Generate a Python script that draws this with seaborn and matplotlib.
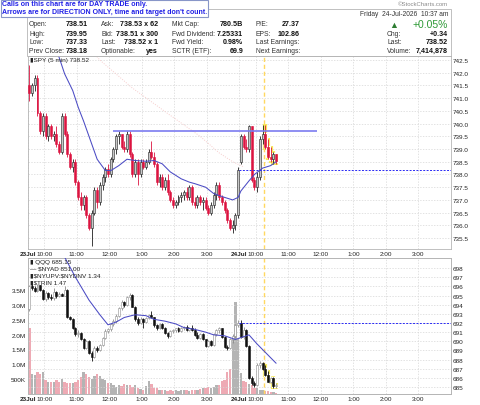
import numpy as np
import pandas as pd
import matplotlib
matplotlib.use("Agg")
import matplotlib.pyplot as plt
from matplotlib.patches import Rectangle
import seaborn as sns

sns.set_style("white")
plt.rcParams["font.family"] = ["Liberation Sans", "DejaVu Sans"]

# 1. Bar data: 5 min bars, 23 Jul full session (78 bars) + 24 Jul up to 10:35 (14 bars)
spy_open = [
    741.5, 741.2, 741.5, 741.8, 740.4, 739.7, 740.3, 739.5, 739.9, 739.5, 739.6, 739.2, 738.9,
    740.3, 739.6, 738.8, 738.3, 738.5, 737.7, 737.1, 736.8, 737.1, 736.4, 735.9, 736.5, 737.4,
    736.9, 737.6, 737.9, 738.2, 738.0, 738.6, 739.0, 739.5, 739.6, 739.1, 739.0, 739.6, 738.8,
    738.0, 738.5, 738.0, 738.5, 738.3, 738.5, 738.9, 738.7, 738.4, 737.7, 737.9, 737.5, 737.8,
    737.3, 737.0, 736.8, 736.9, 737.1, 737.2, 737.3, 737.1, 737.5, 736.9, 736.8, 737.1, 736.9,
    737.0, 736.7, 736.5, 736.8, 737.2, 737.6, 737.1, 736.9, 736.6, 736.2, 735.9, 736.0, 736.4,
    738.51, 739.5, 739.1, 739.0, 739.9, 737.8, 737.5, 737.9, 739.4, 739.6, 739.1, 738.7, 738.6, 738.8]
spy_high = [
    742.3, 741.6, 741.9, 741.9, 740.5, 740.4, 740.4, 740.0, 740.0, 739.7, 739.9, 739.3, 740.4,
    740.4, 739.7, 738.9, 738.6, 738.6, 737.8, 737.3, 737.2, 737.2, 736.5, 736.6, 737.5, 737.5,
    737.7, 738.0, 738.3, 738.4, 738.7, 739.1, 739.6, 739.7, 739.6, 739.3, 739.7, 739.7, 738.9,
    738.6, 738.6, 738.6, 738.6, 738.6, 739.0, 739.3, 738.9, 738.5, 738.0, 738.0, 737.9, 738.0,
    737.4, 737.1, 737.0, 737.2, 737.3, 737.4, 737.5, 737.6, 737.6, 737.1, 737.2, 737.2, 737.1,
    737.1, 736.8, 736.9, 737.3, 737.7, 737.7, 737.2, 737.0, 736.7, 736.3, 736.2, 736.5, 738.3,
    739.6, 739.6, 739.4, 739.95, 739.9, 737.9, 738.1, 739.5, 739.95, 739.95, 739.4, 739.1, 738.9, 738.8]
spy_low = [
    740.9, 741.1, 741.3, 740.3, 739.6, 739.5, 739.4, 739.3, 739.4, 739.3, 739.1, 738.8, 738.8,
    739.5, 738.7, 738.2, 738.1, 737.6, 737.0, 736.6, 736.6, 736.3, 735.8, 735.2, 736.4, 736.7,
    736.8, 737.4, 737.7, 737.9, 737.9, 738.5, 738.8, 739.2, 739.0, 738.9, 738.9, 738.7, 737.9,
    737.9, 737.6, 737.9, 738.2, 738.2, 738.4, 738.6, 738.3, 737.6, 737.5, 737.4, 737.4, 737.2,
    736.9, 736.7, 736.7, 736.8, 736.9, 737.0, 737.0, 737.0, 736.8, 736.7, 736.7, 736.8, 736.6,
    736.6, 736.4, 736.4, 736.7, 737.0, 737.0, 736.8, 736.5, 736.1, 735.8, 735.7, 735.8, 736.3,
    738.4, 739.0, 738.9, 738.9, 737.7, 737.4, 737.33, 737.8, 739.2, 739.0, 738.6, 738.5, 738.4, 738.4]
spy_close = [
    741.2, 741.5, 741.8, 740.4, 739.7, 740.3, 739.5, 739.9, 739.5, 739.6, 739.2, 738.9, 740.3,
    739.6, 738.8, 738.3, 738.5, 737.7, 737.1, 736.8, 737.1, 736.4, 735.9, 736.5, 737.4, 736.9,
    737.6, 737.9, 738.2, 738.0, 738.6, 739.0, 739.5, 739.6, 739.1, 739.0, 739.6, 738.8, 738.0,
    738.5, 738.0, 738.5, 738.3, 738.5, 738.9, 738.7, 738.4, 737.7, 737.9, 737.5, 737.8, 737.3,
    737.0, 736.8, 736.9, 737.1, 737.2, 737.3, 737.1, 737.5, 736.9, 736.8, 737.1, 736.9, 737.0,
    736.7, 736.5, 736.8, 737.2, 737.6, 737.1, 736.9, 736.6, 736.2, 735.9, 736.0, 736.4, 738.18,
    739.5, 739.1, 739.0, 739.9, 737.8, 737.5, 737.9, 739.4, 739.6, 739.1, 738.7, 738.6, 738.8, 738.52]

qqq_open = [
    693.5, 696.0, 695.8, 695.5, 696.1, 695.6, 694.6, 695.3, 694.8, 694.7, 695.4, 694.9, 695.2,
    695.0, 695.6, 692.6, 692.4, 691.4, 690.8, 690.9, 690.3, 689.3, 690.0, 688.7, 688.3, 689.3,
    689.0, 689.6, 690.4, 691.1, 691.3, 691.9, 692.2, 692.8, 693.6, 694.3, 694.0, 694.8, 695.1,
    693.8, 692.4, 692.0, 692.4, 692.1, 692.5, 692.9, 692.6, 691.8, 691.4, 691.9, 691.5, 690.9,
    690.6, 691.1, 691.2, 691.4, 691.1, 691.5, 691.6, 691.2, 691.5, 691.2, 690.7, 690.4, 690.8,
    690.2, 689.5, 690.0, 689.6, 690.8, 691.2, 691.4, 690.5, 689.4, 689.3, 690.3, 690.6, 691.8,
    692.0, 690.5, 691.2, 689.5, 686.0, 685.4, 685.2, 687.4, 687.6, 687.0, 686.3, 685.6, 686.0, 685.1]
qqq_high = [
    696.2, 696.3, 696.0, 696.3, 696.2, 695.7, 695.5, 695.4, 695.2, 695.8, 695.5, 695.4, 695.3,
    696.0, 695.7, 692.8, 692.5, 691.6, 691.2, 691.0, 690.4, 690.1, 690.1, 688.9, 689.5, 689.5,
    689.7, 690.5, 691.3, 691.5, 692.0, 692.4, 693.0, 693.8, 694.5, 694.4, 695.0, 695.3, 695.2,
    693.9, 692.6, 692.6, 692.5, 692.6, 693.0, 693.3, 692.7, 691.9, 692.0, 692.0, 691.6, 691.0,
    691.2, 691.3, 691.5, 691.6, 691.6, 691.7, 691.8, 691.6, 691.8, 691.4, 691.0, 690.9, 690.9,
    690.3, 690.1, 690.1, 690.9, 691.3, 691.6, 691.5, 690.6, 689.6, 690.4, 690.8, 691.9, 692.3,
    692.3, 691.6, 691.3, 689.6, 686.2, 685.7, 687.6, 687.9, 687.7, 687.4, 686.8, 686.1, 686.1, 685.4]
qqq_low = [
    693.3, 695.6, 695.4, 695.4, 695.5, 694.5, 694.4, 694.6, 694.5, 694.5, 694.7, 694.8, 694.9,
    694.9, 692.5, 692.3, 691.3, 690.6, 690.5, 690.1, 689.2, 689.2, 688.6, 687.9, 688.2, 688.8,
    688.9, 689.5, 690.2, 690.9, 691.1, 691.7, 692.0, 692.6, 693.4, 693.8, 693.9, 694.5, 693.7,
    692.2, 691.8, 691.9, 691.5, 692.0, 692.4, 692.5, 691.6, 691.2, 691.3, 691.3, 690.8, 690.4,
    690.5, 690.9, 691.0, 691.0, 691.0, 691.2, 691.1, 691.1, 691.1, 690.6, 690.3, 690.3, 690.1,
    689.4, 689.4, 689.5, 689.5, 690.6, 690.9, 690.4, 689.3, 689.1, 689.2, 689.8, 690.4, 691.6,
    690.4, 690.2, 689.4, 685.9, 685.2, 685.0, 685.1, 687.1, 686.9, 686.2, 685.5, 685.4, 684.9, 684.9]
qqq_close = [
    696.0, 695.8, 695.5, 696.1, 695.6, 694.6, 695.3, 694.8, 694.7, 695.4, 694.9, 695.2, 695.0,
    695.6, 692.6, 692.4, 691.4, 690.8, 690.9, 690.3, 689.3, 690.0, 688.7, 688.3, 689.3, 689.0,
    689.6, 690.4, 691.1, 691.3, 691.9, 692.2, 692.8, 693.6, 694.3, 694.0, 694.8, 695.1, 693.8,
    692.4, 692.0, 692.4, 692.1, 692.5, 692.9, 692.6, 691.8, 691.4, 691.9, 691.5, 690.9, 690.6,
    691.1, 691.2, 691.4, 691.1, 691.5, 691.6, 691.2, 691.5, 691.2, 690.7, 690.4, 690.8, 690.2,
    689.5, 690.0, 689.6, 690.8, 691.2, 691.4, 690.5, 689.4, 689.3, 690.3, 690.6, 691.8, 692.0,
    690.5, 691.2, 689.5, 686.0, 685.4, 685.2, 687.4, 687.6, 687.0, 686.3, 685.6, 686.0, 685.1, 685.15]

# SPY volume, millions
volume_m = [
    2.22, 0.68, 0.63, 0.74, 0.68, 0.74, 0.46, 0.40, 0.40, 0.42, 0.46, 0.40, 0.51,
    0.40, 0.38, 0.38, 0.38, 0.42, 0.48, 0.56, 0.74, 0.68, 0.56, 0.51, 0.60, 0.68,
    0.62, 0.51, 0.46, 0.38, 0.38, 0.30, 0.25, 0.30, 0.28, 0.32, 0.30, 0.30, 0.25,
    0.30, 0.20, 0.18, 0.15, 0.28, 0.45, 0.35, 0.20, 0.20, 0.15, 0.12, 0.12, 0.10,
    0.12, 0.10, 0.12, 0.10, 0.12, 0.15, 0.12, 0.10, 0.12, 0.12, 0.15, 0.18, 0.20,
    0.20, 0.22, 0.20, 0.25, 0.30, 0.30, 0.45, 0.48, 0.74, 0.84, 1.85, 3.10, 1.85,
    0.70, 0.45, 0.40, 0.35, 0.30, 0.20, 0.20, 0.15, 0.12, 0.10, 0.10, 0.08, 0.06, 0.05]

# moving averages (bar slot, value)
spy_ma_slot = [8, 11, 13, 16, 18, 20, 23, 25, 28, 30, 33, 36, 39, 43, 46, 49,
               52, 56, 59, 61, 65, 68, 72, 75, 77, 78, 81, 83, 86, 89, 91]
spy_ma = [743.3, 742.6, 741.96, 741.3, 740.65, 740.1, 739.2, 738.6, 738.16, 738.15,
          738.35, 738.6, 738.55, 738.52, 738.55, 738.42, 738.1, 737.83, 737.7, 737.64,
          737.5, 737.25, 737.1, 737.0, 737.1, 737.35, 737.75, 738.0, 738.25, 738.35, 738.5]
spy_long_slot = [22, 26, 38, 51, 63, 70, 75, 79]
spy_long_ma = [743.0, 742.5, 741.4, 740.4, 739.5, 738.85, 738.5, 738.3]
qqq_ma_slot = [10, 13, 17, 22, 26, 29, 32, 35, 39, 43, 46, 50, 54, 57, 61, 65,
               68, 72, 76, 78, 81, 84, 87, 91]
qqq_ma = [700.5, 699.2, 697.0, 694.5, 692.9, 691.8, 692.1, 692.6, 692.9, 692.8,
          692.4, 692.2, 691.9, 691.5, 691.3, 691.0, 690.7, 690.6, 690.2, 690.4,
          690.7, 689.7, 688.8, 687.6]

spy_prev_close = 738.18
qqq_prev_close = 692.0
resistance = 739.7
resistance_span = (31, 106)
marker_slot = 86.7          # yellow "now" marker
highlight_from = 87         # bars after the marker get the yellow glow
bars_per_day = 78
day_labels = ["23Jul", "24Jul"]
hour_labels = ["10:00", "11:00", "12:00", "1:00", "2:00", "3:00"]
hour_minutes = [30, 90, 150, 210, 270, 330]
price_ticks = [735.5, 736.0, 736.5, 737.0, 737.5, 738.0, 738.5, 739.0, 739.5,
               740.0, 740.5, 741.0, 741.5, 742.0, 742.5]
qqq_ticks = list(range(685, 699))
vol_ticks = [0.5, 1.0, 1.5, 2.0, 2.5, 3.0, 3.5]
vol_tick_labels = ["500K", "1.0M", "1.5M", "2.0M", "2.5M", "3.0M", "3.5M"]

# header / info box texts
info_labels = [["Open:", "High:", "Low:", "Prev Close:"],
               ["Ask:", "Bid:", "Last:", "Optionable:"],
               ["Mkt Cap:", "Fwd Dividend:", "Fwd Yield:", "SCTR (ETF):"],
               ["P/E:", "EPS:", "Last Earnings:", "Next Earnings:"],
               ["", "Chg:", "Last:", "Volume:"]]
info_values = [["738.51", "739.95", "737.33", "738.18"],
               ["738.53 x 62", "738.51 x 300", "738.52 x 1", "yes"],
               ["780.5B", "7.25331", "0.98%", "69.9"],
               ["27.37", "102.86", "", ""],
               ["+0.05%", "+0.34", "738.52", "7,414,878"]]
overlay_labels = ["\u25AE QQQ 685.15", "\u2014 \\$NYAD 851.00",
                  "\u25AE\\$NYUPV:\\$NYDNV 1.34", "\u25AE\\$TRIN 1.47"]

# 2. Canvas and panel placement (pixel boxes on the 480 x 406 canvas)
W, H = 480, 406
fig = plt.figure(figsize=(W / 100, H / 100), dpi=100)
fig.patch.set_facecolor("white")


def fbox(x0, y0, x1, y1):
    return [x0 / W, 1 - y1 / H, (x1 - x0) / W, (y1 - y0) / H]


ax_p = fig.add_axes(fbox(28, 57, 451, 250))
ax_v = fig.add_axes(fbox(28, 259, 451, 395))
ax_q = ax_v.twinx()

n_slots = 2 * bars_per_day
tick_pos, tick_lab = [], []
for d, day in enumerate(day_labels):
    base = d * bars_per_day - 0.5
    tick_pos.append(base)
    tick_lab.append(day)
    for m, lab in zip(hour_minutes, hour_labels):
        tick_pos.append(base + m / 5)
        tick_lab.append(lab)

grid_kw = dict(color="#d6d6d6", lw=0.5, ls=(0, (2, 2)))
FS = 4.6


def style_time_axis(ax):
    ax.set_xlim(-0.5, n_slots - 0.5)
    ax.set_xticks(tick_pos)
    ax.set_xticklabels(tick_lab)
    for t in ax.get_xticklabels():
        if t.get_text() in day_labels:
            t.set_fontweight("bold")
    for s in ax.spines.values():
        s.set_color("#b5b5b5")
        s.set_linewidth(0.6)


def draw_candles(ax, o, h, l, c, up_face, up_edge, dn_face, dn_edge, min_body):
    o, h, l, c = map(np.asarray, (o, h, l, c))
    x = np.arange(len(o))
    up = c >= o
    lo = np.minimum(o, c)
    body = np.maximum(np.abs(c - o), min_body)
    sel = x >= highlight_from
    ax.vlines(x[sel], l[sel] - min_body, h[sel] + min_body, color="#f7ea5a", lw=3.0, zorder=3)
    ax.bar(x[sel], body[sel] + 2 * min_body, bottom=lo[sel] - min_body, width=1.15,
           color="#f7ea5a", zorder=3)
    edge = np.where(up, up_edge, dn_edge)
    ax.vlines(x, l, h, colors=edge, lw=0.6, zorder=4)
    ax.bar(x, body, bottom=lo, width=0.72, color=np.where(up, up_face, dn_face),
           edgecolor=edge, linewidth=0.4, zorder=5)


# 3. SPY price panel
style_time_axis(ax_p)
ax_p.set_ylim(735.07, 742.66)
ax_p.set_yticks(price_ticks)
ax_p.set_yticklabels([f"{v:.1f}" for v in price_ticks])
ax_p.yaxis.tick_right()
ax_p.tick_params(length=0, labelsize=FS, pad=1.5, colors="#222222")
ax_p.grid(True, **grid_kw)
ax_p.set_axisbelow(True)

sns.lineplot(x=spy_long_slot, y=spy_long_ma, ax=ax_p, color="#f6cccc", lw=0.7,
             ls=(0, (1, 1.5)), zorder=2)
draw_candles(ax_p, spy_open, spy_high, spy_low, spy_close,
             "#c8c8c8", "#1e1e1e", "#dc1440", "#dc1440", 0.03)
sns.lineplot(x=spy_ma_slot, y=spy_ma, ax=ax_p, color="#4b4bc4", lw=0.75, zorder=6)
ax_p.hlines(resistance, *resistance_span, color="#7b7bf0", lw=1.2, zorder=6)
ax_p.hlines(spy_prev_close, bars_per_day - 0.5, n_slots - 0.5, color="#2a2af5",
            lw=0.7, ls=(0, (2, 1.5)), zorder=6)
ax_p.axvline(marker_slot, color="#ffd860", lw=1.0, ls=(0, (3, 2)), zorder=2)
ax_p.set_xlabel("")
ax_p.set_ylabel("")
ax_p.text(0.004, 0.995, "\u25AESPY (5 min) 738.52", transform=ax_p.transAxes,
          fontsize=FS, va="top", ha="left", color="#222222", zorder=8)

# 4. Lower panel: SPY volume (left axis) + QQQ candles (right axis)
style_time_axis(ax_v)
ax_v.set_ylim(0, 4.58)
ax_v.set_yticks(vol_ticks)
ax_v.set_yticklabels(vol_tick_labels)
ax_v.tick_params(length=0, labelsize=FS, pad=1.5, colors="#222222")
ax_v.grid(True, axis="x", **grid_kw)
ax_v.set_axisbelow(True)
vol_col = np.where(np.asarray(spy_close) >= np.asarray(spy_open), "#b4b4b4", "#eeaab4")
ax_v.bar(np.arange(len(volume_m)), volume_m, width=0.85, color=vol_col, linewidth=0, zorder=2)

ax_q.set_xlim(-0.5, n_slots - 0.5)
ax_q.set_ylim(684.24, 699.1)
ax_q.set_yticks(qqq_ticks)
ax_q.set_yticklabels([str(v) for v in qqq_ticks])
ax_q.tick_params(length=0, labelsize=FS, pad=1.5, colors="#222222")
ax_q.grid(True, axis="y", **grid_kw)
for s in ax_q.spines.values():
    s.set_color("#b5b5b5")
    s.set_linewidth(0.6)
draw_candles(ax_q, qqq_open, qqq_high, qqq_low, qqq_close,
             "white", "#8c8c8c", "#111111", "#111111", 0.08)
sns.lineplot(x=qqq_ma_slot, y=qqq_ma, ax=ax_q, color="#4b4bc4", lw=0.75, zorder=6)
ax_q.hlines(qqq_prev_close, bars_per_day - 0.5, n_slots - 0.5, color="#2a2af5",
            lw=0.7, ls=(0, (2, 1.5)), zorder=6)
ax_q.axvline(marker_slot, color="#ffd860", lw=1.0, ls=(0, (3, 2)), zorder=2)
ax_q.set_xlabel("")
ax_q.set_ylabel("")
for i, lab in enumerate(overlay_labels):
    ax_q.text(0.004, 0.995 - i * 0.05, lab, transform=ax_q.transAxes, fontsize=FS,
              va="top", ha="left", color="#222222", zorder=8)

# 5. Info box above the chart
fig.add_artist(Rectangle((27 / W, 1 - 57 / H), (451 - 27) / W, 47 / H,
                         transform=fig.transFigure, fill=False,
                         edgecolor="#b5b5b5", lw=0.6))
rows_y = [25, 34, 42.5, 51.5]
label_x = [29, 101, 172, 256, 387]
value_x = [88, 158, 243, 300, 448]


def ftext(x, y, s, **kw):
    fig.text(x / W, 1 - y / H, s, va="center", **kw)


for col in range(5):
    for r in range(4):
        if info_labels[col][r]:
            ftext(label_x[col], rows_y[r], info_labels[col][r], fontsize=4.9,
                  color="#333333", ha="left")
        val = info_values[col][r]
        if not val:
            continue
        if col == 4 and r == 0:
            ftext(value_x[col], rows_y[r], val, fontsize=7.5, color="#2e9a36", ha="right")
        else:
            ftext(value_x[col], rows_y[r], val, fontsize=5.1, color="#111111",
                  ha="right", fontweight="bold")
ftext(394, 25, "\u25B2", fontsize=6.5, color="#2e7d32", ha="center")
ftext(448, 15, "Friday  24-Jul-2026  10:37 am", fontsize=4.8, color="#333333", ha="right")
ftext(448, 5, "\u00A9StockCharts.com", fontsize=4.3, color="#8a8a8a", ha="right")

# 6. Call-out note in the corner
fig.add_artist(Rectangle((0.5 / W, 1 - 17.5 / H), 207 / W, 17 / H,
                         transform=fig.transFigure, facecolor="white",
                         edgecolor="#8896c8", lw=0.8, zorder=10))
fig.text(2 / W, 1 - 5 / H, "Calls on this chart are for DAY TRADE only.",
         fontsize=5.0, color="#1f1fe6", fontweight="bold", va="center", ha="left", zorder=11)
fig.text(2 / W, 1 - 13 / H, "Arrows are for DIRECTION ONLY, time and target don't count.",
         fontsize=5.0, color="#1f1fe6", fontweight="bold", va="center", ha="left", zorder=11)

fig.savefig("out.png", dpi=100)
plt.close(fig)
